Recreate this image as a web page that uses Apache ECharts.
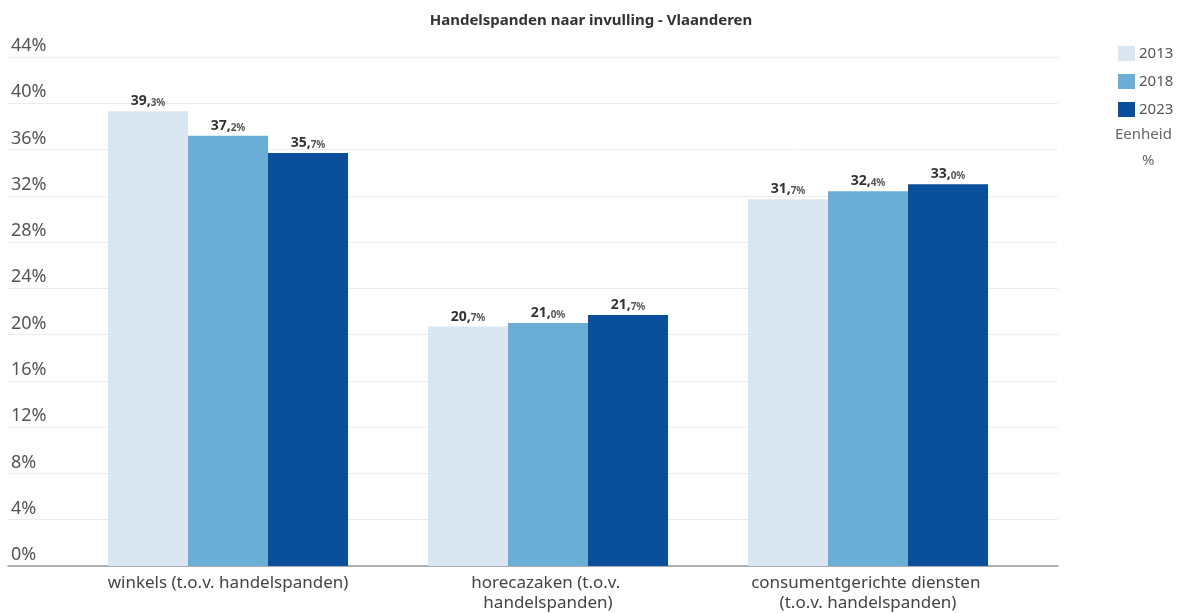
<!DOCTYPE html>
<html><head><meta charset="utf-8">
<script src="https://cdn.jsdelivr.net/npm/echarts@6/dist/echarts.min.js"></script>
<style>html,body{margin:0;padding:0;background:#fff}#c{width:1182px;height:613px}</style>
</head><body><div id="c"></div>
<script>
var title = 'Handelspanden naar invulling - Vlaanderen';
var categories = ['winkels (t.o.v. handelspanden)', 'horecazaken (t.o.v. handelspanden)', 'consumentgerichte diensten (t.o.v. handelspanden)'];
var years = ['2013', '2018', '2023'];
var values2013 = [39.3, 20.7, 31.7];
var values2018 = [37.2, 21.0, 32.4];
var values2023 = [35.7, 21.7, 33.0];
var yTicks = [0, 4, 8, 12, 16, 20, 24, 28, 32, 36, 40, 44];
var unitLabel = 'Eenheid';
var unitValue = '%';

var colors = ['#dbe6f3', '#6aaed6', '#0a4f9b'];
var FONT = '"Noto Sans", "Open Sans", sans-serif';

function lbl(p) {
  var s = p.value.toFixed(1).split('.');
  return '{a|' + s[0] + ',}{b|' + s[1] + '%}';
}
var labelCfg = {
  show: true, position: 'top', distance: 3, formatter: lbl,
  rich: {
    a: {fontFamily: FONT, fontWeight: 'bold', fontSize: 14, color: '#333'},
    b: {fontFamily: FONT, fontWeight: 'bold', fontSize: 10, color: '#555', verticalAlign: 'bottom'}
  }
};
var allVals = [values2013, values2018, values2023];
var series = years.map(function (y, i) {
  return {
    name: y, type: 'bar', xAxisIndex: 1, yAxisIndex: 1,
    data: allVals[i], barGap: '0%', barCategoryGap: '25%',
    itemStyle: {color: colors[i]}, label: labelCfg
  };
});

var chart = echarts.init(document.getElementById('c'));
chart.setOption({
  animation: false,
  title: {text: title, left: 'center', top: 8,
    textStyle: {fontFamily: FONT, fontSize: 15, fontWeight: 'bold', color: '#333'}},
  legend: {
    data: years, orient: 'vertical', left: 1113, top: 41,
    itemWidth: 17, itemHeight: 15, itemGap: 13, icon: 'rect',
    textStyle: {fontFamily: FONT, fontSize: 15, color: '#555', padding: [0,0,0,-1]}
  },
  graphic: [
    {type: 'text', left: 1115, top: 127, style: {text: unitLabel, font: '15px ' + FONT, fill: '#666'}},
    {type: 'text', left: 1142, top: 153, style: {text: unitValue, font: '15px ' + FONT, fill: '#666'}}
  ],
  grid: [
    {left: 8, right: 124, top: 57, bottom: 47},
    {left: 68, right: 154, top: 57, bottom: 47}
  ],
  xAxis: [
    {gridIndex: 0, type: 'value', min: 0, max: 1, axisLabel: {show: false}, splitLine: {show: false},
      axisTick: {show: false}, axisLine: {show: true, lineStyle: {color: '#999', width: 1.5}}},
    {gridIndex: 1, type: 'category', data: categories, axisLine: {show: false}, axisTick: {show: false},
      axisLabel: {interval: 0, fontFamily: FONT, fontSize: 17, color: '#444', margin: 7, width: 258, overflow: 'break', lineHeight: 20}}
  ],
  yAxis: [
    {gridIndex: 0, type: 'value', min: 0, max: 44, interval: 4,
      axisLine: {show: false}, axisTick: {show: false},
      splitLine: {lineStyle: {color: '#ececec', width: 1}},
      axisLabel: {inside: true, margin: 3, verticalAlign: 'bottom', fontFamily: FONT, fontSize: 18, color: '#555',
        padding: [0,0,2,0], formatter: function (v) { return yTicks.indexOf(v) >= 0 ? v + '%' : ''; }}},
    {gridIndex: 1, type: 'value', min: 0, max: 44, interval: 4, show: false}
  ],
  series: series
});
</script></body></html>
